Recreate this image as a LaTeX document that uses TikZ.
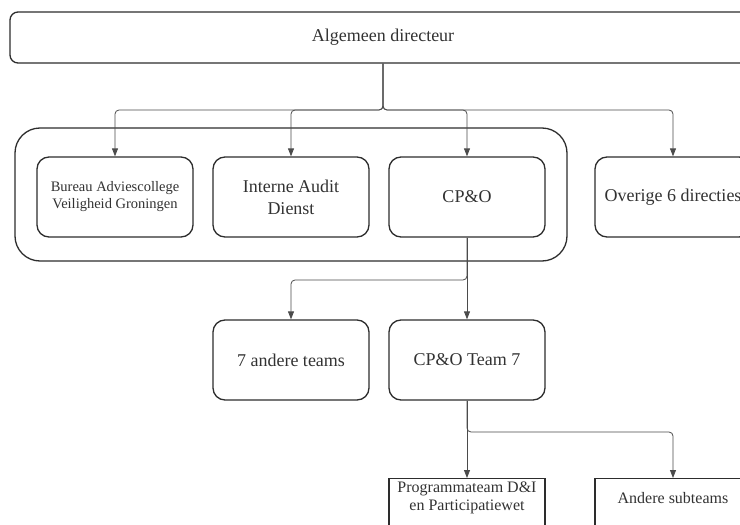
\documentclass[tikz,border=0pt]{standalone}
\usepackage{fontspec}
\setmainfont{Liberation Serif}
\usetikzlibrary{positioning,arrows.meta,fit}
\definecolor{boxline}{RGB}{45,45,45}
\definecolor{linkline}{RGB}{75,75,75}
\definecolor{labeltext}{RGB}{50,50,50}

\begin{document}
\begin{tikzpicture}[x=1pt, y=-1pt,
  every node/.style={font=\fontsize{18}{22}\selectfont, text=labeltext},
  orgbox/.style={rectangle, draw=boxline, line width=1.3pt, rounded corners=12pt,
                 minimum width=156pt, minimum height=80pt, align=center, inner sep=2pt},
  smalltext/.style={font=\fontsize{14.5}{17}\selectfont},
  subbox/.style={rectangle, draw=boxline, line width=1.3pt,
                 minimum width=156pt, minimum height=80pt, anchor=north},
  sublabel/.style={anchor=center, yshift=-20pt, align=center,
                   font=\fontsize{16}{18}\selectfont, text=labeltext},
  groupbox/.style={rectangle, draw=boxline, line width=1.3pt, rounded corners=25pt, inner sep=0pt},
  link/.style={draw=linkline, line width=0.8pt, rounded corners=4pt,
               -{Triangle[length=8pt,width=6pt]}}
]
  \useasboundingbox (0,0) rectangle (740,525);
  \clip (0,0) rectangle (740,525);

  % directie
  \node[orgbox, rounded corners=8pt, minimum width=746pt, minimum height=51pt] (ad) at (383,37.5) {Algemeen directeur};

  % staf
  \node[groupbox, fit={(15,128) (567,261)}] (staf) {};
  \node[orgbox, smalltext] (bureau) at (115,197) {Bureau Adviescollege\\Veiligheid Groningen};
  \node[orgbox] (audit)  at (291,197) {Interne Audit\\Dienst};
  \node[orgbox] (cpo)    at (467,197) {CP\&O};
  \node[orgbox] (overig) at (673,197) {Overige 6 directies};

  % teams
  \node[orgbox] (others) at (291,360) {7 andere teams};
  \node[orgbox] (team)   at (467,360) {CP\&O Team 7};

  % subteams
  \node[subbox, label={[sublabel]north:Programmateam D\&I\\en Participatiewet}] (prog) at (467,478) {};
  \node[subbox, label={[sublabel]north:Andere subteams}] (rest) at (673,478) {};

  \coordinate (bus) at (383,110);
  \coordinate (split) at (467,280);
  \coordinate (split2) at (467,432);

  \foreach \n in {bureau,audit,cpo,overig}
    \draw[link] (ad.south) -- (bus) -| (\n.north);

  \draw[link] (cpo.south) -- (team.north);
  \draw[link] (cpo.south) -- (split) -| (others.north);

  \draw[link] (team.south) -- (prog.north);
  \draw[link] (team.south) -- (split2) -| (rest.north);
\end{tikzpicture}
\end{document}
